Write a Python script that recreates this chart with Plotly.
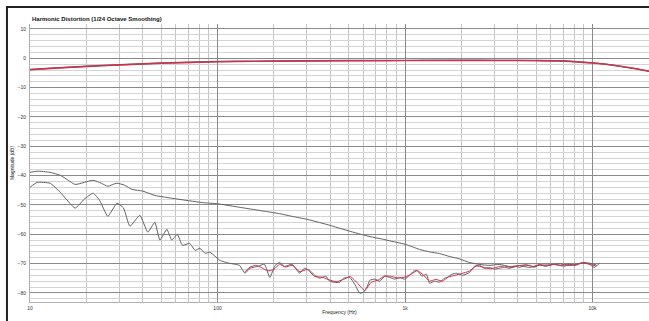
import math
import plotly.graph_objects as go

# Fundamental response (two measurements), dB
fund_freq = [10, 12.8, 20, 30, 50, 100, 200, 500, 1000, 2000, 3000, 5000, 6600, 8000, 10000, 13000, 16000, 20000]
fund_a = [-3.9, -3.5, -2.8, -2.3, -1.7, -1.2, -1.0, -0.85, -0.8, -0.75, -0.75, -0.8, -0.9, -1.15, -1.6, -2.4, -3.3, -4.4]
fund_b = [-3.8, -3.4, -2.7, -2.2, -1.6, -1.1, -0.9, -0.75, -0.7, -0.65, -0.7, -0.75, -0.85, -1.1, -1.55, -2.35, -3.25, -4.35]

# 2nd harmonic
h2_freq = [10, 10.9, 12.8, 14.5, 16, 17.4, 19.5, 21.7, 24, 26, 29, 32, 35, 40, 46, 53, 61, 71, 83,
           100, 120, 150, 180, 215, 250, 300, 350, 400, 450, 510, 580, 650, 750, 850, 1000,
           1200, 1350, 1530, 1730, 1950, 2200, 2500, 2800, 3200, 3600, 4100, 4600, 5200,
           5900, 6700, 7500, 8500, 9600, 10500]
h2_db = [-38.9, -38.5, -38.9, -39.9, -41.6, -43.0, -42.3, -41.6, -42.6, -43.6, -42.6, -43.3, -44.7,
         -45.3, -46.7, -47.4, -48.0, -48.6, -49.2,
         -49.6, -50.4, -51.4, -52.2, -53.0, -53.9, -54.9, -56.0, -57.0, -58.0, -59.0, -60.0,
         -60.8, -61.6, -62.4, -63.4,
         -65.2, -66.0, -66.6, -67.6, -68.4, -69.6, -70.3, -70.6, -70.3, -71.0, -70.7, -71.3,
         -70.6, -70.4, -70.1, -70.7, -70.0, -69.8, -70.5]

# 3rd harmonic
h3_freq = [10, 10.9, 12.8, 14.5, 17.4, 19.5, 21.7, 23.5, 26, 29.1, 31.5, 34.1, 38.5, 42.5, 46.3,
           49.3, 53.7, 57, 61, 65, 71, 76, 80.5, 86, 91, 97,
           103, 116, 131, 140, 149, 165, 178, 190, 203, 214, 228, 250, 274, 290, 310, 330,
           350, 378, 396, 420, 448, 470, 507, 540, 573, 600, 630, 648, 690, 732, 780, 828,
           880, 936, 995, 1058, 1110, 1160, 1230, 1300, 1352, 1440, 1529, 1620, 1680, 1780,
           1880, 2030, 2209, 2350, 2497, 2650, 2823, 3000, 3192, 3400, 3608, 3850, 4080,
           4350, 4613, 4900, 5214, 5550, 5895, 6250, 6665, 7100, 7534, 8000, 8518, 9100,
           9627, 10200, 10885]
h3_db = [-44.0, -42.3, -42.6, -45.7, -51.1, -48.0, -46.0, -48.4, -53.9, -49.4, -51.0, -57.3,
         -53.5, -59.3, -55.9, -62.0, -58.3, -62.0, -60.0, -63.8, -63.1, -65.5, -64.8, -66.5,
         -66.1, -67.5,
         -68.9, -69.9, -70.6, -73.3, -71.6, -70.9, -70.2, -74.7, -70.6, -69.6, -71.0, -70.2,
         -73.3, -71.6, -72.3, -74.0, -75.0, -74.3, -76.0, -76.4, -76.4, -75.0, -74.7, -77.1,
         -80.1, -79.8, -77.7, -75.7, -75.3, -76.0, -74.3, -74.7, -75.3, -74.7, -75.3, -74.0,
         -72.6, -72.3, -74.3, -73.6, -76.7, -76.0, -76.4, -75.0, -74.7, -73.6, -73.3, -74.0,
         -73.0, -70.9, -70.6, -71.6, -71.3, -71.9, -71.6, -71.3, -71.6, -70.9, -71.3, -70.6,
         -70.6, -71.3, -70.2, -70.9, -70.6, -70.2, -70.6, -70.9, -70.2, -70.6, -69.9, -69.6,
         -70.2, -71.3, -69.9]

# Repeat measurement of the 3rd harmonic (upper band)
h3b_freq = [140, 149, 160, 172, 185, 200, 214, 230, 250, 275, 300, 330, 360, 396, 430, 470,
            510, 560, 610, 660, 720, 780, 850, 920, 1000, 1080, 1160, 1250, 1350, 1460, 1580,
            1700, 1850, 2000, 2200, 2400, 2600, 2850, 3100, 3400, 3700, 4000, 4400, 4800,
            5200, 5700, 6200, 6800, 7400, 8100, 8800, 9600, 10400]
h3b_db = [-72.8, -71.2, -70.6, -71.4, -72.5, -72.0, -70.2, -71.2, -70.6, -72.8, -72.0, -74.4,
          -74.6, -75.6, -76.2, -75.4, -74.4, -76.8, -79.2, -76.4, -75.6, -74.2, -74.4, -75.0,
          -74.6, -73.6, -72.4, -73.8, -76.0, -75.4, -76.0, -74.6, -74.0, -73.4, -72.6, -70.8,
          -71.2, -71.8, -71.2, -70.8, -71.4, -70.8, -70.4, -71.0, -70.4, -70.8, -70.3, -70.7,
          -70.2, -70.6, -69.8, -70.2, -70.8]

fig = go.Figure()
gray = "#626262"
red = "#d2304c"

fig.add_trace(go.Scatter(x=h2_freq, y=h2_db, mode="lines", line=dict(color=gray, width=1.0, shape="spline", smoothing=0.6)))
fig.add_trace(go.Scatter(x=h3_freq, y=h3_db, mode="lines", line=dict(color=gray, width=1.0, shape="spline", smoothing=0.4)))
fig.add_trace(go.Scatter(x=h3b_freq, y=h3b_db, mode="lines", line=dict(color=red, width=1.0, shape="spline", smoothing=0.4)))
fig.add_trace(go.Scatter(x=fund_freq, y=fund_b, mode="lines", line=dict(color=gray, width=1.4, shape="spline")))
fig.add_trace(go.Scatter(x=fund_freq, y=fund_a, mode="lines", line=dict(color=red, width=1.4, shape="spline")))

tick_font = dict(family="Liberation Sans", size=5, color="#333")

fig.update_layout(
    width=649, height=321,
    margin=dict(l=30, r=0, t=24, b=19),
    paper_bgcolor="white", plot_bgcolor="white",
    showlegend=False,
    xaxis=dict(
        type="log", range=[1, math.log10(20000)],
        tickvals=[10, 100, 1000, 10000], ticktext=["10", "100", "1k", "10k"],
        tickfont=tick_font, ticks="", ticklabelstandoff=1,
        showgrid=True, gridcolor="#8a8a8a", gridwidth=1,
        minor=dict(showgrid=True, gridcolor="#c4c4c4", gridwidth=1, dtick="D1"),
        showline=True, linecolor="#b0b0b0", zeroline=False,
        title=dict(text="Frequency (Hz)", font=dict(family="Liberation Sans", size=5, color="#222"), standoff=0),
    ),
    yaxis=dict(
        range=[-83.1, 11.7],
        tickvals=[10, 0, -10, -20, -30, -40, -50, -60, -70, -80],
        tickfont=tick_font, ticks="", ticklabelstandoff=2,
        showgrid=True, gridcolor="#8a8a8a", gridwidth=1,
        minor=dict(showgrid=True, gridcolor="#d4d4d4", gridwidth=1, dtick=2),
        showline=True, linecolor="#b0b0b0", zeroline=False,
        title=dict(text="Magnitude (dB)", font=dict(family="Liberation Sans", size=5, color="#222"), standoff=2),
    ),
    annotations=[dict(
        text="<b>Harmonic Distortion (1/24 Octave Smoothing)</b>",
        xref="paper", yref="paper", x=0, y=1.0, xanchor="left", yanchor="bottom",
        showarrow=False, font=dict(family="Liberation Sans", size=6, color="#111"),
    )],
    shapes=[dict(
        type="rect", xref="paper", yref="paper",
        x0=-0.0372, x1=1.2, y0=-0.3, y1=1.061,
        line=dict(color="#222", width=2), fillcolor="rgba(0,0,0,0)", layer="above",
    )],
)

fig.write_html("out.html")
